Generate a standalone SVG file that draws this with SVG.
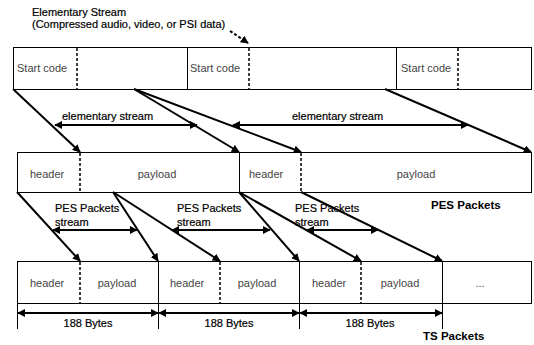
<svg xmlns="http://www.w3.org/2000/svg" width="534" height="345" viewBox="0 0 534 345">
  <style>
    text { font-family: "Liberation Sans", Arial, sans-serif; font-size: 11px; fill: #000; stroke: #000; stroke-width: 0.2; }
    .cell { fill: #444; stroke: none; }
    .bold { font-weight: bold; font-size: 11.5px; fill: #000; stroke: none; }
    .box { fill: #fff; stroke: #000; stroke-width: 1; }
    .div { stroke: #000; stroke-width: 1; }
    .dash { stroke: #000; stroke-width: 1.5; stroke-dasharray: 3 2; }
    .conn { stroke: #000; stroke-width: 2; fill: none; }
    .tick { stroke: #000; stroke-width: 1; }
  </style>
  <defs>
    <marker id="ah" viewBox="0 0 10 10" refX="9" refY="5" markerWidth="4" markerHeight="4" orient="auto-start-reverse" markerUnits="strokeWidth">
      <path d="M0,0 L10,5 L0,10 z" fill="#000"/>
    </marker>
  </defs>

  <!-- elementary stream caption -->
  <g id="caption">
    <text x="32" y="16">Elementary Stream</text>
    <text x="32" y="28">(Compressed audio, video, or PSI data)</text>
  </g>

  <!-- elementary stream row -->
  <g id="es-row">
    <rect class="box" x="13.5" y="47.5" width="518" height="42"/>
    <line class="dash" x1="77" y1="48" x2="77" y2="89"/>
    <line class="div" x1="187.5" y1="48" x2="187.5" y2="89"/>
    <line class="dash" x1="249" y1="48" x2="249" y2="89"/>
    <line class="div" x1="396.5" y1="48" x2="396.5" y2="89"/>
    <line class="dash" x1="458" y1="48" x2="458" y2="89"/>
    <text class="cell" x="17" y="72">Start code</text>
    <text class="cell" x="190" y="72">Start code</text>
    <text class="cell" x="401" y="72">Start code</text>
  </g>

  <!-- PES packet row -->
  <g id="pes-row">
    <rect class="box" x="17.5" y="152.5" width="514" height="40"/>
    <line class="dash" x1="80" y1="153" x2="80" y2="192"/>
    <line class="div" x1="239.5" y1="153" x2="239.5" y2="192"/>
    <line class="dash" x1="301" y1="153" x2="301" y2="192"/>
    <text class="cell" x="30" y="178">header</text>
    <text class="cell" x="157" y="178" text-anchor="middle">payload</text>
    <text class="cell" x="249" y="178">header</text>
    <text class="cell" x="416" y="178" text-anchor="middle">payload</text>
    <text class="bold" x="431" y="209">PES Packets</text>
  </g>

  <!-- TS packet row -->
  <g id="ts-row">
    <rect class="box" x="17.5" y="261.5" width="514" height="42"/>
    <line class="dash" x1="80" y1="262" x2="80" y2="303"/>
    <line class="div" x1="158.5" y1="262" x2="158.5" y2="303"/>
    <line class="dash" x1="220" y1="262" x2="220" y2="303"/>
    <line class="div" x1="299.5" y1="262" x2="299.5" y2="303"/>
    <line class="dash" x1="361" y1="262" x2="361" y2="303"/>
    <line class="div" x1="442.5" y1="262" x2="442.5" y2="303"/>
    <text class="cell" x="30" y="287">header</text>
    <text class="cell" x="117" y="287" text-anchor="middle">payload</text>
    <text class="cell" x="170" y="287">header</text>
    <text class="cell" x="257" y="287" text-anchor="middle">payload</text>
    <text class="cell" x="312" y="287">header</text>
    <text class="cell" x="400" y="287" text-anchor="middle">payload</text>
    <text class="cell" x="480" y="287" text-anchor="middle">...</text>
    <text class="bold" x="423" y="340">TS Packets</text>
  </g>

  <!-- size dimension ticks and labels -->
  <g id="sizes">
    <line class="tick" x1="17.5" y1="303" x2="17.5" y2="329"/>
    <line class="tick" x1="158.5" y1="303" x2="158.5" y2="329"/>
    <line class="tick" x1="299.5" y1="303" x2="299.5" y2="329"/>
    <line class="tick" x1="442.5" y1="303" x2="442.5" y2="329"/>
    <text x="88" y="327" text-anchor="middle">188 Bytes</text>
    <text x="229" y="327" text-anchor="middle">188 Bytes</text>
    <text x="370" y="327" text-anchor="middle">188 Bytes</text>
  </g>

  <!-- stream labels -->
  <g id="labels">
    <text x="62" y="120">elementary stream</text>
    <text x="292" y="120">elementary stream</text>
    <text x="55" y="212">PES Packets</text>
    <text x="55" y="226">stream</text>
    <text x="177" y="212">PES Packets</text>
    <text x="177" y="226">stream</text>
    <text x="295" y="212">PES Packets</text>
    <text x="295" y="226">stream</text>
  </g>

  <!-- connectors -->
  <g id="connectors">
    <line class="conn" stroke-dasharray="3 2" x1="230" y1="31" x2="248" y2="43" marker-end="url(#ah)"/>

    <!-- elementary stream to PES -->
    <line class="conn" x1="13" y1="89" x2="80" y2="152" marker-end="url(#ah)"/>
    <line class="conn" x1="134" y1="89" x2="239" y2="152" marker-end="url(#ah)"/>
    <line class="conn" x1="134" y1="89" x2="301" y2="152" marker-end="url(#ah)"/>
    <line class="conn" x1="385" y1="89" x2="531" y2="152" marker-end="url(#ah)"/>

    <line class="conn" x1="55" y1="125" x2="197" y2="125" marker-start="url(#ah)" marker-end="url(#ah)"/>
    <line class="conn" x1="233" y1="125" x2="468" y2="125" marker-start="url(#ah)" marker-end="url(#ah)"/>

    <!-- PES to TS -->
    <line class="conn" x1="17" y1="192" x2="80" y2="261" marker-end="url(#ah)"/>
    <line class="conn" x1="113" y1="192" x2="158" y2="261" marker-end="url(#ah)"/>
    <line class="conn" x1="113" y1="192" x2="220" y2="261" marker-end="url(#ah)"/>
    <line class="conn" x1="239" y1="192" x2="299" y2="261" marker-end="url(#ah)"/>
    <line class="conn" x1="239" y1="192" x2="361" y2="261" marker-end="url(#ah)"/>
    <line class="conn" x1="301" y1="192" x2="442" y2="261" marker-end="url(#ah)"/>

    <line class="conn" x1="53" y1="230" x2="137" y2="230" marker-start="url(#ah)" marker-end="url(#ah)"/>
    <line class="conn" x1="172" y1="230" x2="270" y2="230" marker-start="url(#ah)" marker-end="url(#ah)"/>
    <line class="conn" x1="307" y1="230" x2="378" y2="230" marker-start="url(#ah)" marker-end="url(#ah)"/>

    <!-- TS packet sizes -->
    <line class="conn" x1="18" y1="313" x2="158" y2="313" marker-start="url(#ah)" marker-end="url(#ah)"/>
    <line class="conn" x1="159" y1="313" x2="299" y2="313" marker-start="url(#ah)" marker-end="url(#ah)"/>
    <line class="conn" x1="300" y1="313" x2="442" y2="313" marker-start="url(#ah)" marker-end="url(#ah)"/>
  </g>
</svg>
